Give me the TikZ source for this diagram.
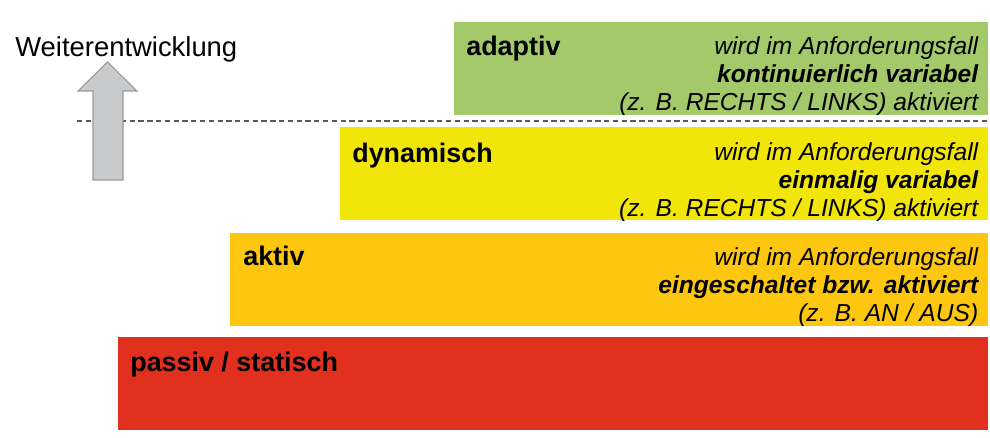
\documentclass[tikz,border=0pt]{standalone}
\usepackage{fontspec}
\setmainfont{Liberation Sans}
\usetikzlibrary{positioning}
\definecolor{gruen}{HTML}{A3C96B}
\definecolor{gelb}{HTML}{F2E50A}
\definecolor{orangegelb}{HTML}{FDC710}
\definecolor{rot}{HTML}{E2301F}
\definecolor{pfeilgrau}{HTML}{C9CACC}
\newcommand{\titelfont}{\fontsize{15.3}{18}\selectfont\bfseries}
\newcommand{\infofont}{\fontsize{14}{15.9}\selectfont\itshape}

\begin{document}
\begin{tikzpicture}[x=0.02cm, y=-0.02cm,
		bar/.style={anchor=north west, inner sep=0pt, minimum height=1.86cm},
		titel/.style={inner sep=0pt, anchor=base west, font=\titelfont},
		info/.style={inner sep=0pt, align=right, font=\infofont},
		trennlinie/.style={densely dashed, draw=black!65, line width=0.6pt},
		pfeil/.style={fill=pfeilgrau, draw=black!40, line width=0.6pt}]
	\useasboundingbox (0,0) rectangle (990,438);
	
	\node[bar, fill=gruen, minimum width=10.68cm] (adaptiv) at (454,22) {};
	\node[bar, fill=gelb, minimum width=12.96cm] (dynamisch) at (340,127) {};
	\node[bar, fill=orangegelb, minimum width=15.16cm] (aktiv) at (230,233) {};
	\node[bar, fill=rot, minimum width=17.4cm] (passiv) at (118,337) {};
	
	\node[below right=0.68cm and 0.24cm of adaptiv.north west, titel] (adaptiv-t) {adaptiv};
	\node[below right=0.72cm and 0.24cm of dynamisch.north west, titel] (dynamisch-t) {dynamisch};
	\node[below right=0.66cm and 0.26cm of aktiv.north west, titel] (aktiv-t) {aktiv};
	\node[below right=0.7cm and 0.24cm of passiv.north west, titel] (passiv-t) {passiv / statisch};
	
	\node[below left=0.29cm and 0.2cm of adaptiv.north east, info] (adaptiv-i)
		{wird im Anforderungsfall\\ \textbf{kontinuierlich variabel}\\ (z. B. RECHTS / LINKS) aktiviert};
	\node[below left=0.3cm and 0.2cm of dynamisch.north east, info] (dynamisch-i)
		{wird im Anforderungsfall\\ \textbf{einmalig variabel}\\ (z. B. RECHTS / LINKS) aktiviert};
	\node[below left=0.29cm and 0.2cm of aktiv.north east, info] (aktiv-i)
		{wird im Anforderungsfall\\ \textbf{eingeschaltet bzw. aktiviert}\\ (z. B. AN / AUS)};
	
	\coordinate (trenn-l) at (77,121);
	\coordinate (trenn-r) at (990,121);
	\draw[trennlinie] (trenn-l) -- (trenn-r);
	
	\node[anchor=base west, inner sep=0pt, font=\fontsize{15.6}{18}\selectfont] (weiter) at (15,57) {Weiterentwicklung};
	\draw[pfeil] (93,180) -- (93,91) -- (78,91) -- (107.5,62) -- (137,91) -- (123,91) -- (123,180) -- cycle;
\end{tikzpicture}
\end{document}
